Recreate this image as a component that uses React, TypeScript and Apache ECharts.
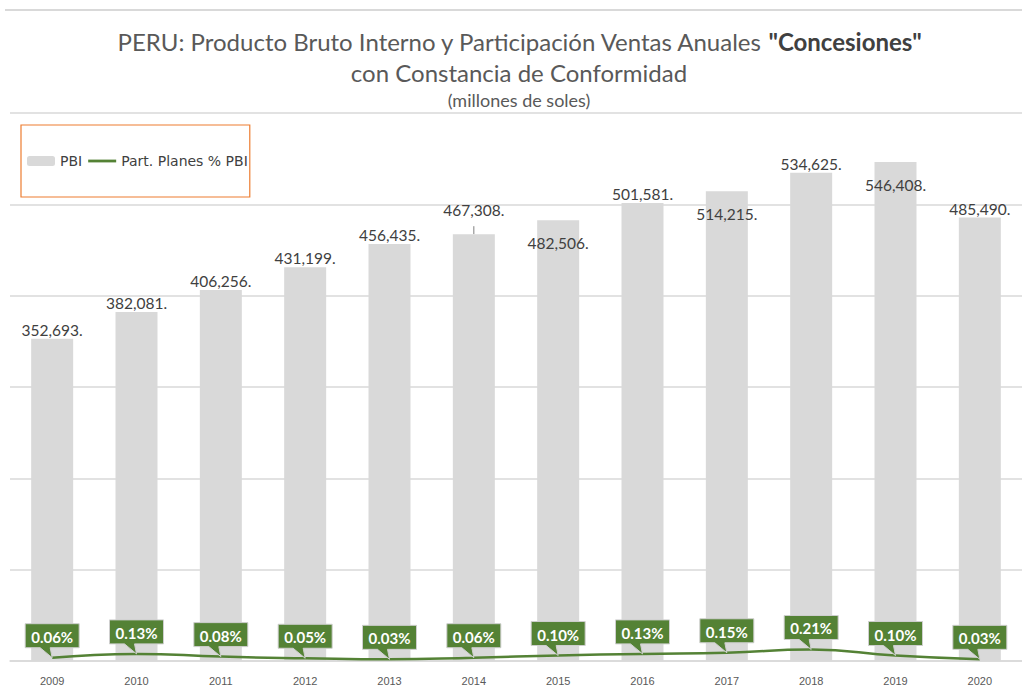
import React, { useEffect, useRef } from "react";
import * as echarts from "echarts";

const years = ["2009", "2010", "2011", "2012", "2013", "2014", "2015", "2016", "2017", "2018", "2019", "2020"];
const pbi = [352693, 382081, 406256, 431199, 456435, 467308, 482506, 501581, 514215, 534625, 546408, 485490];
const partPct = [0.06, 0.13, 0.08, 0.05, 0.03, 0.06, 0.1, 0.13, 0.15, 0.21, 0.1, 0.03];
const seriesNames = ["PBI", "Part. Planes % PBI"];

// label placement tweaks (layout only)
const insideIdx = [6, 8, 10];
const leaderIdx = [5];

const fmtThousands = (v: number) => v.toLocaleString("en-US") + ".";

export default function App() {
  const ref = useRef<HTMLDivElement>(null);
  useEffect(() => {
    const chart = echarts.init(ref.current!, null, { renderer: "svg" });
    const barData = pbi.map((v, i) => {
      if (insideIdx.includes(i)) {
        return { value: v, label: { position: "insideTop", distance: 15 } };
      }
      if (leaderIdx.includes(i)) {
        return {
          value: v,
          label: { position: "top", distance: 16 },
          labelLine: { show: true, lineStyle: { color: "#7f7f7f", width: 1 } },
        };
      }
      return { value: v };
    });
    const option: any = {
      animation: false,
      backgroundColor: "#ffffff",
      title: {
        left: 514,
        top: 21,
        textAlign: "center",
        text:
          '{a|PERU: Producto Bruto Interno y Participación Ventas Anuales }{b|"Concesiones"}\n{a|con Constancia de Conformidad}',
        textStyle: {
          fontWeight: "normal",
          rich: {
            a: { fontFamily: "Lato", fontSize: 24, fontWeight: "normal", color: "#595959", lineHeight: 31 },
            b: { fontFamily: "Lato", fontSize: 24, fontWeight: "bold", color: "#404040", lineHeight: 31 },
          },
        },
        subtext: "(millones de soles)",
        itemGap: 10,
        subtextStyle: { fontFamily: "Lato", fontSize: 18, color: "#595959" },
      },
      graphic: [
        {
          type: "line",
          shape: { x1: 5, y1: 10, x2: 1022, y2: 10 },
          style: { stroke: "#d9d9d9", lineWidth: 2 },
          silent: true,
        },
      ],
      legend: {
        left: 21,
        top: 125,
        data: [
          { name: seriesNames[0] },
          { name: seriesNames[1], icon: "path://M0,0 L30,0 L30,3 L0,3 Z" },
        ],
        borderColor: "#ED7D31",
        borderWidth: 1.2,
        padding: [29, 2, 29, 6],
        itemWidth: 28,
        itemHeight: 10,
        itemGap: 6,
        textStyle: { fontFamily: "DejaVu Sans", fontSize: 14, color: "#404040", lineHeight: 14 },
      },
      grid: { left: 10, right: -11, top: 113, bottom: 23, containLabel: false },
      xAxis: {
        type: "category",
        data: years,
        axisTick: { show: false },
        axisLine: { lineStyle: { color: "#d9d9d9", width: 1.5 } },
        axisLabel: { fontFamily: "Liberation Sans", fontSize: 11, color: "#595959", margin: 14 },
      },
      yAxis: [
        {
          type: "value",
          min: 0,
          max: 600000,
          interval: 100000,
          axisLabel: { show: false },
          axisLine: { show: false },
          axisTick: { show: false },
          splitLine: { lineStyle: { color: "#d9d9d9", width: 1.5 } },
        },
        {
          type: "value",
          min: 0,
          max: 10,
          show: false,
          splitLine: { show: false },
        },
      ],
      series: [
        {
          name: seriesNames[0],
          type: "bar",
          data: barData,
          barWidth: 42,
          itemStyle: { color: "#d9d9d9" },
          label: {
            show: true,
            position: "top",
            distance: 1,
            fontFamily: "Lato",
            fontSize: 15.5,
            color: "#404040",
            formatter: (p: any) => fmtThousands(p.value),
          },
        },
        {
          name: seriesNames[1],
          type: "line",
          yAxisIndex: 1,
          data: partPct,
          smooth: true,
          symbol: "none",
          lineStyle: { color: "#548235", width: 2.5 },
          itemStyle: { color: "#548235" },
          z: 3,
        },
        {
          name: "callouts",
          type: "custom",
          yAxisIndex: 1,
          data: partPct.map((v, i) => [i, v]),
          encode: { x: 0, y: 1 },
          clip: false,
          silent: true,
          z: 5,
          renderItem: (params: any, api: any) => {
            const v = api.value(1);
            const p = api.coord([api.value(0), v]);
            const w = 54;
            const h = 24;
            const x0 = p[0] - w / 2;
            const x1 = p[0] + w / 2;
            const y1 = p[1] - 10;
            const y0 = y1 - h;
            return {
              type: "group",
              children: [
                {
                  type: "polygon",
                  shape: {
                    points: [
                      [x0, y0],
                      [x1, y0],
                      [x1, y1],
                      [p[0] - 2, y1],
                      [p[0], p[1]],
                      [p[0] - 12, y1],
                      [x0, y1],
                    ],
                  },
                  style: { fill: "#548235", stroke: "#cfcfcf", lineWidth: 1 },
                },
                {
                  type: "text",
                  x: p[0],
                  y: (y0 + y1) / 2 + 1,
                  style: {
                    text: v.toFixed(2) + "%",
                    fill: "#ffffff",
                    font: "bold 15px Lato",
                    align: "center",
                    verticalAlign: "middle",
                  },
                },
              ],
            };
          },
        },
      ],
    };
    chart.setOption(option);
    return () => chart.dispose();
  }, []);
  return (
    <div
      ref={ref}
      style={{ position: "fixed", left: 0, top: 0, width: 1022, height: 686, background: "#fff" }}
    />
  );
}
